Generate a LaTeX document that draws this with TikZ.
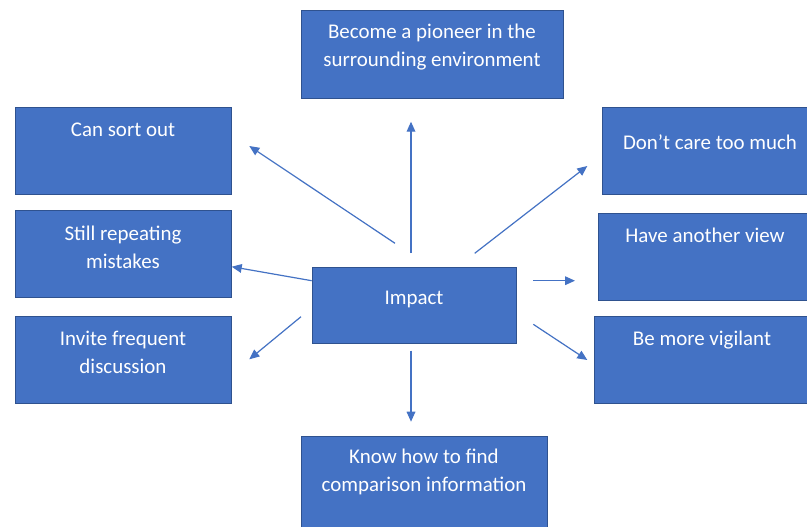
\documentclass[tikz,border=0pt]{standalone}
\usepackage{fontspec}
\setmainfont{Carlito}
\usetikzlibrary{arrows.meta,positioning}
\definecolor{boxblue}{HTML}{4472C4}
\definecolor{boxedge}{HTML}{2F528F}
\newcommand\lift[1]{\rule{0pt}{#1}}

\begin{document}
\begin{tikzpicture}[x=0.75pt, y=-0.75pt,
	box/.style={draw=boxedge, fill=boxblue, line width=0.75pt, inner sep=0pt},
	txt/.style={text=white, anchor=north, inner sep=0pt, align=center, font=\fontsize{15.7}{21}\selectfont},
	arr/.style={draw=boxblue, line width=0.9pt, -{Triangle[length=7.5pt,width=6.5pt]}}]
	\useasboundingbox (0,0) rectangle (807,526);
	\clip (0,0) rectangle (807,526);
	\fill[white] (0,0) rectangle (807,526);

	% boxes, in pixel units of the reference
	\node[box, minimum width=196.5pt, minimum height=66pt] (pioneer) at (432,54) {};
	\node[box, minimum width=162pt, minimum height=65.25pt] (sort) at (123,150.5) {};
	\node[box, minimum width=162pt, minimum height=65.25pt] (repeat) at (123,253.5) {};
	\node[box, minimum width=162pt, minimum height=65.25pt] (invite) at (123,359.5) {};
	\node[box, minimum width=153pt, minimum height=57pt] (impact) at (414,305) {};
	\node[box, minimum width=162pt, minimum height=65.25pt] (care) at (710,150.5) {};
	\node[box, minimum width=160.5pt, minimum height=65.25pt] (view) at (705,256.5) {};
	\node[box, minimum width=162pt, minimum height=65.25pt] (vigilant) at (702,359.5) {};
	\node[box, minimum width=184.5pt, minimum height=70.5pt] (compare) at (424,483) {};

	% texts, hung from the top of each box
	\node[txt] (pioneer-t) at (pioneer.north) {\lift{21.5pt}Become a pioneer in the\\surrounding environment};
	\node[txt] (sort-t) at (sort.north) {\lift{22pt}Can sort out};
	\node[txt] (repeat-t) at (repeat.north) {\lift{22.75pt}Still repeating\\mistakes};
	\node[txt] (invite-t) at (invite.north) {\lift{22pt}Invite frequent\\discussion};
	\node[txt] (impact-t) at (impact.north) {\lift{28pt}Impact};
	\node[txt] (care-t) at (care.north) {\lift{32.25pt}Don’t care too much};
	\node[txt] (view-t) at (view.north) {\lift{22pt}Have another view};
	\node[txt] (vigilant-t) at (vigilant.north) {\lift{22pt}Be more vigilant};
	\node[txt] (compare-t) at (compare.north) {\lift{21pt}Know how to find\\comparison information};

	% loose arrows around Impact
	\coordinate (up-a) at (411,253);      \coordinate (up-b) at (411,121.7);
	\coordinate (sort-a) at (395,243.3);  \coordinate (sort-b) at (249.3,146);
	\coordinate (rep-a) at (311.7,280.7); \coordinate (rep-b) at (231.7,266.7);
	\coordinate (inv-a) at (301,316.7);   \coordinate (inv-b) at (249.3,359.3);
	\coordinate (down-a) at (411,350.7);  \coordinate (down-b) at (411,421.7);
	\coordinate (care-a) at (474.7,253.3);\coordinate (care-b) at (587.3,166);
	\coordinate (view-a) at (533.3,280.7);\coordinate (view-b) at (575,280.7);
	\coordinate (vig-a) at (533.3,324.3); \coordinate (vig-b) at (587.3,360);

	\foreach \a/\b in {up-a/up-b, sort-a/sort-b, rep-a/rep-b, inv-a/inv-b,
		down-a/down-b, care-a/care-b, view-a/view-b, vig-a/vig-b}
		\draw[arr] (\a) -- (\b);
\end{tikzpicture}
\end{document}
